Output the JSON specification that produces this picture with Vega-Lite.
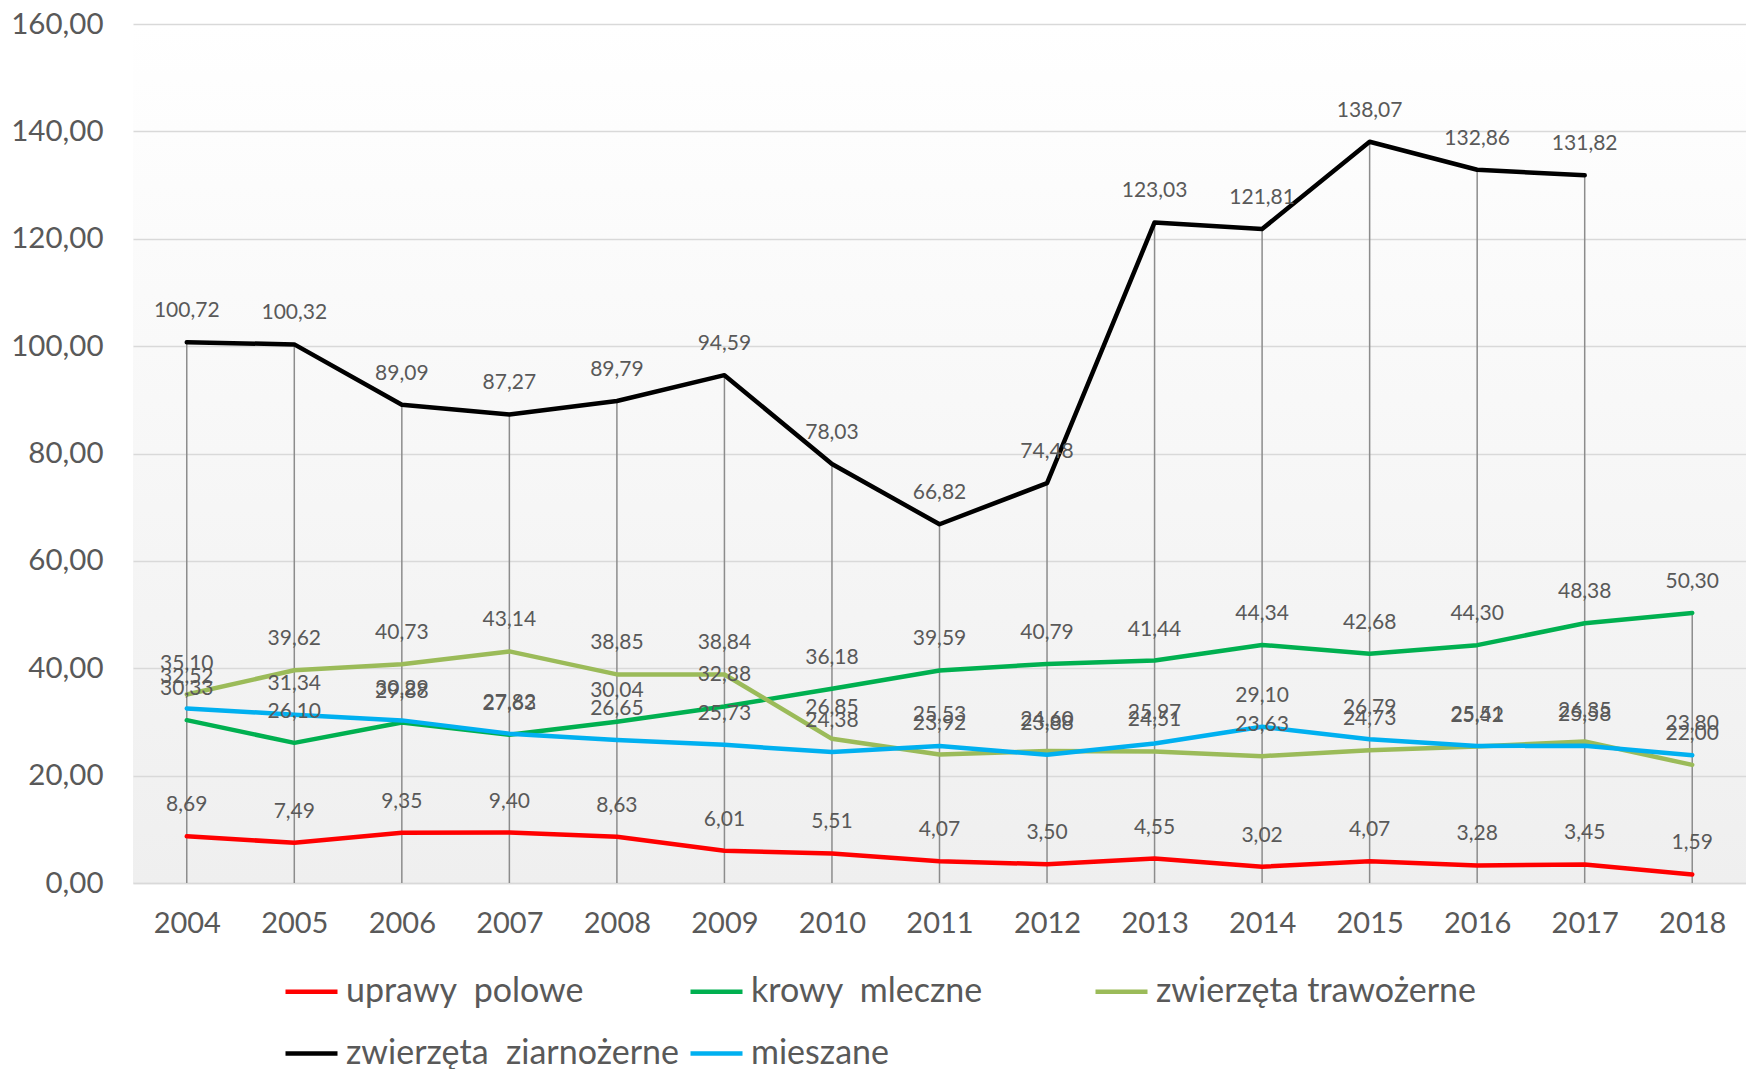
{
  "$schema": "https://vega.github.io/schema/vega-lite/v6.json",
  "width": 1613,
  "height": 859,
  "autosize": {"type": "none"},
  "padding": {"left": 133, "top": 24, "right": 0, "bottom": 186},
  "background": "#ffffff",
  "config": {
    "locale": {"number": {"decimal": ",", "thousands": " ", "grouping": [3], "currency": ["", " zł"]}},
    "font": "Lato",
    "view": {
      "stroke": null,
      "fill": {"gradient": "linear", "x1": 0, "y1": 0, "x2": 0, "y2": 1,
        "stops": [{"offset": 0, "color": "#ffffff"}, {"offset": 1, "color": "#efefef"}]}
    }
  },
  "data": {
    "values": [
      {"year": "2004", "series": "uprawy\u00a0 polowe", "value": 8.69},
      {"year": "2005", "series": "uprawy\u00a0 polowe", "value": 7.49},
      {"year": "2006", "series": "uprawy\u00a0 polowe", "value": 9.35},
      {"year": "2007", "series": "uprawy\u00a0 polowe", "value": 9.40},
      {"year": "2008", "series": "uprawy\u00a0 polowe", "value": 8.63},
      {"year": "2009", "series": "uprawy\u00a0 polowe", "value": 6.01},
      {"year": "2010", "series": "uprawy\u00a0 polowe", "value": 5.51},
      {"year": "2011", "series": "uprawy\u00a0 polowe", "value": 4.07},
      {"year": "2012", "series": "uprawy\u00a0 polowe", "value": 3.50},
      {"year": "2013", "series": "uprawy\u00a0 polowe", "value": 4.55},
      {"year": "2014", "series": "uprawy\u00a0 polowe", "value": 3.02},
      {"year": "2015", "series": "uprawy\u00a0 polowe", "value": 4.07},
      {"year": "2016", "series": "uprawy\u00a0 polowe", "value": 3.28},
      {"year": "2017", "series": "uprawy\u00a0 polowe", "value": 3.45},
      {"year": "2018", "series": "uprawy\u00a0 polowe", "value": 1.59},
      {"year": "2004", "series": "krowy\u00a0 mleczne", "value": 30.33},
      {"year": "2005", "series": "krowy\u00a0 mleczne", "value": 26.10},
      {"year": "2006", "series": "krowy\u00a0 mleczne", "value": 29.88},
      {"year": "2007", "series": "krowy\u00a0 mleczne", "value": 27.63},
      {"year": "2008", "series": "krowy\u00a0 mleczne", "value": 30.04},
      {"year": "2009", "series": "krowy\u00a0 mleczne", "value": 32.88},
      {"year": "2010", "series": "krowy\u00a0 mleczne", "value": 36.18},
      {"year": "2011", "series": "krowy\u00a0 mleczne", "value": 39.59},
      {"year": "2012", "series": "krowy\u00a0 mleczne", "value": 40.79},
      {"year": "2013", "series": "krowy\u00a0 mleczne", "value": 41.44},
      {"year": "2014", "series": "krowy\u00a0 mleczne", "value": 44.34},
      {"year": "2015", "series": "krowy\u00a0 mleczne", "value": 42.68},
      {"year": "2016", "series": "krowy\u00a0 mleczne", "value": 44.30},
      {"year": "2017", "series": "krowy\u00a0 mleczne", "value": 48.38},
      {"year": "2018", "series": "krowy\u00a0 mleczne", "value": 50.30},
      {"year": "2004", "series": "zwierzęta trawożerne", "value": 35.10},
      {"year": "2005", "series": "zwierzęta trawożerne", "value": 39.62},
      {"year": "2006", "series": "zwierzęta trawożerne", "value": 40.73},
      {"year": "2007", "series": "zwierzęta trawożerne", "value": 43.14},
      {"year": "2008", "series": "zwierzęta trawożerne", "value": 38.85},
      {"year": "2009", "series": "zwierzęta trawożerne", "value": 38.84},
      {"year": "2010", "series": "zwierzęta trawożerne", "value": 26.85},
      {"year": "2011", "series": "zwierzęta trawożerne", "value": 23.92},
      {"year": "2012", "series": "zwierzęta trawożerne", "value": 24.60},
      {"year": "2013", "series": "zwierzęta trawożerne", "value": 24.51},
      {"year": "2014", "series": "zwierzęta trawożerne", "value": 23.63},
      {"year": "2015", "series": "zwierzęta trawożerne", "value": 24.73},
      {"year": "2016", "series": "zwierzęta trawożerne", "value": 25.42},
      {"year": "2017", "series": "zwierzęta trawożerne", "value": 26.35},
      {"year": "2018", "series": "zwierzęta trawożerne", "value": 22.00},
      {"year": "2004", "series": "zwierzęta\u00a0 ziarnożerne", "value": 100.72},
      {"year": "2005", "series": "zwierzęta\u00a0 ziarnożerne", "value": 100.32},
      {"year": "2006", "series": "zwierzęta\u00a0 ziarnożerne", "value": 89.09},
      {"year": "2007", "series": "zwierzęta\u00a0 ziarnożerne", "value": 87.27},
      {"year": "2008", "series": "zwierzęta\u00a0 ziarnożerne", "value": 89.79},
      {"year": "2009", "series": "zwierzęta\u00a0 ziarnożerne", "value": 94.59},
      {"year": "2010", "series": "zwierzęta\u00a0 ziarnożerne", "value": 78.03},
      {"year": "2011", "series": "zwierzęta\u00a0 ziarnożerne", "value": 66.82},
      {"year": "2012", "series": "zwierzęta\u00a0 ziarnożerne", "value": 74.48},
      {"year": "2013", "series": "zwierzęta\u00a0 ziarnożerne", "value": 123.03},
      {"year": "2014", "series": "zwierzęta\u00a0 ziarnożerne", "value": 121.81},
      {"year": "2015", "series": "zwierzęta\u00a0 ziarnożerne", "value": 138.07},
      {"year": "2016", "series": "zwierzęta\u00a0 ziarnożerne", "value": 132.86},
      {"year": "2017", "series": "zwierzęta\u00a0 ziarnożerne", "value": 131.82},
      {"year": "2004", "series": "mieszane", "value": 32.52},
      {"year": "2005", "series": "mieszane", "value": 31.34},
      {"year": "2006", "series": "mieszane", "value": 30.29},
      {"year": "2007", "series": "mieszane", "value": 27.82},
      {"year": "2008", "series": "mieszane", "value": 26.65},
      {"year": "2009", "series": "mieszane", "value": 25.73},
      {"year": "2010", "series": "mieszane", "value": 24.38},
      {"year": "2011", "series": "mieszane", "value": 25.53},
      {"year": "2012", "series": "mieszane", "value": 23.88},
      {"year": "2013", "series": "mieszane", "value": 25.97},
      {"year": "2014", "series": "mieszane", "value": 29.10},
      {"year": "2015", "series": "mieszane", "value": 26.79},
      {"year": "2016", "series": "mieszane", "value": 25.51},
      {"year": "2017", "series": "mieszane", "value": 25.58},
      {"year": "2018", "series": "mieszane", "value": 23.80}
    ]
  },
  "encoding": {
    "x": {
      "field": "year", "type": "ordinal",
      "scale": {"type": "point", "padding": 0.5},
      "axis": {
        "title": null, "labelAngle": 0, "ticks": false, "grid": false,
        "domain": true, "domainColor": "#d9d9d9", "domainWidth": 1.5,
        "labelFontSize": 29, "labelColor": "#595959", "labelPadding": 26, "labelFont": "Lato"
      }
    }
  },
  "layer": [
    {
      "mark": {"type": "rule", "color": "#8c8c8c", "strokeWidth": 1.5},
      "encoding": {
        "y": {"aggregate": "max", "field": "value", "type": "quantitative"},
        "y2": {"datum": 0}
      }
    },
    {
      "mark": {"type": "line", "strokeWidth": 4.5, "strokeCap": "round", "strokeJoin": "round"},
      "encoding": {
        "y": {
          "field": "value", "type": "quantitative",
          "scale": {"domain": [0, 160], "nice": false},
          "axis": {
            "title": null, "values": [0, 20, 40, 60, 80, 100, 120, 140, 160], "format": ".2f",
            "grid": true, "gridColor": "#d9d9d9", "gridWidth": 1.5,
            "domain": false, "ticks": false,
            "labelFontSize": 29.5, "labelColor": "#595959", "labelPadding": 30, "labelFont": "Lato"
          }
        },
        "color": {
          "field": "series", "type": "nominal",
          "scale": {
            "domain": ["uprawy\u00a0 polowe", "krowy\u00a0 mleczne", "zwierzęta trawożerne", "zwierzęta\u00a0 ziarnożerne", "mieszane"],
            "range": ["#ff0000", "#00b050", "#9bbb59", "#000000", "#00b0f0"]
          },
          "legend": {
            "title": null, "orient": "none", "legendX": 150, "legendY": 939,
            "direction": "horizontal", "columns": 3, "gridAlign": "all",
            "columnPadding": 2, "rowPadding": 16,
            "symbolType": "stroke", "symbolSize": 2704, "symbolStrokeWidth": 4.5,
            "labelFontSize": 34, "labelColor": "#595959", "labelFont": "Lato",
            "labelOffset": 6, "labelLimit": 600
          }
        },
        "order": {"field": "series"}
      }
    },
    {
      "mark": {"type": "text", "dy": -31, "fontSize": 21, "font": "Lato", "color": "#595959", "baseline": "middle"},
      "encoding": {
        "y": {"field": "value", "type": "quantitative"},
        "text": {"field": "value", "type": "quantitative", "format": ".2f"}
      }
    }
  ]
}
